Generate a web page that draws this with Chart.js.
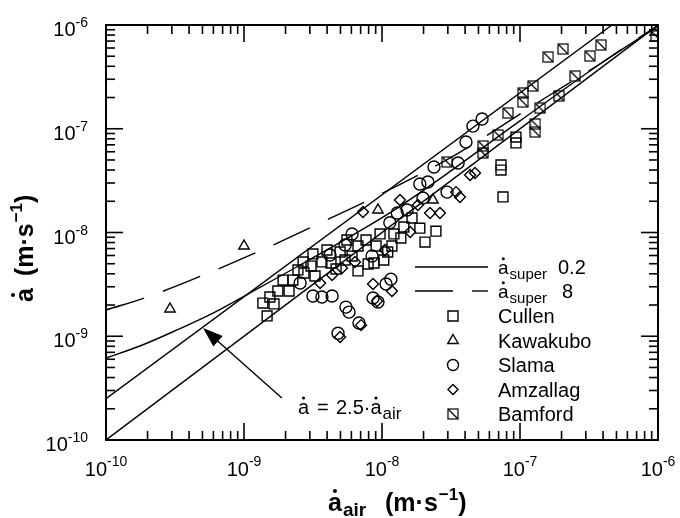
<!DOCTYPE html>
<html><head><meta charset="utf-8">
<script src="https://cdn.jsdelivr.net/npm/chart.js@4/dist/chart.umd.min.js"></script>
<style>html,body{margin:0;padding:0;background:#fff;}canvas{display:block;}</style>
</head><body>
<canvas id="c" width="680" height="518"></canvas>
<script>
// ---- data ----
const tickValues = [1e-10, 1e-9, 1e-8, 1e-7, 1e-6];
const tickExponents = ['-10', '-9', '-8', '-7', '-6'];
const minorMultipliers = [2, 3, 4, 5, 6, 7, 8, 9];

const lineEqual = [[1e-10, 1e-10], [1e-6, 1e-6]];
const line25 = [[1e-10, 2.5e-10], [4.64e-7, 1e-6]];
const curveSuper02 = [[1e-10,6.17e-10],[1.76e-10,8.05e-10],[3.27e-10,1.15e-9],[5.96e-10,1.67e-9],[1.10e-9,2.61e-9],[2.55e-9,4.86e-9],[1.29e-8,1.72e-8],[1.0e-7,1.19e-7],[3.80e-7,4.21e-7],[1e-6,9.77e-7]];
const curveSuper8 = [[1e-10,1.79e-9],[2.08e-10,2.44e-9],[5.31e-10,3.98e-9],[1.35e-9,6.78e-9],[3.44e-9,1.21e-8],[9.20e-9,2.25e-8],[3.38e-8,5.58e-8],[1.52e-7,1.98e-7],[3.99e-7,4.40e-7],[7.41e-7,7.66e-7],[1e-6,9.77e-7]];

const cullen = [[1.47e-9,1.57e-9],[1.37e-9,2.09e-9],[1.54e-9,2.39e-9],[1.65e-9,2.05e-9],[1.76e-9,2.73e-9],[1.92e-9,3.48e-9],[2.12e-9,2.73e-9],[2.26e-9,3.48e-9],[2.46e-9,4.36e-9],[2.72e-9,4.07e-9],[3.06e-9,4.75e-9],[3.27e-9,3.81e-9],[3.67e-9,5.20e-9],[4.27e-9,5.08e-9],[4.65e-9,4.45e-9],[5.40e-9,5.43e-9],[6.07e-9,5.93e-9],[6.70e-9,4.26e-9],[7.93e-9,4.97e-9],[8.75e-9,5.08e-9],[1.03e-8,5.43e-9],[1.10e-8,6.49e-9],[1.22e-8,9.68e-9],[1.37e-8,8.85e-9],[1.44e-8,1.13e-8],[2.05e-8,8.09e-9],[2.46e-8,1.03e-8],[7.28e-8,4.48e-8],[7.28e-8,4.00e-8],[9.35e-8,8.32e-8],[9.35e-8,7.30e-8],[7.53e-8,2.20e-8],[3.16e-9,6.21e-9],[3.99e-9,6.78e-9],[4.97e-9,6.49e-9],[6.70e-9,7.41e-9],[7.66e-9,8.47e-9],[9.06e-9,7.41e-9],[9.68e-9,9.68e-9],[1.65e-8,1.38e-8],[1.88e-8,1.10e-8],[5.57e-9,8.47e-9],[2.68e-9,5.20e-9],[1.18e-8,7.41e-9]];
const kawakubo = [[2.91e-10,1.83e-9],[1.0e-9,7.41e-9],[9.35e-9,1.65e-8],[2.34e-8,2.06e-8]];
const slama = [[3.16e-9,2.44e-9],[3.67e-9,2.39e-9],[4.35e-9,2.44e-9],[5.48e-9,1.91e-9],[5.77e-9,1.71e-9],[6.81e-9,1.34e-9],[4.80e-9,1.07e-9],[8.61e-9,2.34e-9],[9.35e-9,2.14e-9],[1.07e-8,3.19e-9],[1.16e-8,3.55e-9],[4.56e-8,1.06e-7],[5.31e-8,1.24e-7],[4.06e-8,7.45e-8],[2.38e-8,4.28e-8],[3.56e-8,4.68e-8],[2.15e-8,3.07e-8],[1.88e-8,2.93e-8],[2.96e-8,2.45e-8],[1.98e-8,2.15e-8],[1.52e-8,1.65e-8],[1.14e-8,1.24e-8],[6.07e-9,9.68e-9],[1.29e-8,1.54e-8],[5.40e-9,7.59e-9],[4.20e-9,6.07e-9],[8.47e-9,5.93e-9],[2.55e-9,3.26e-9]];
const amzallag = [[7.28e-9,1.58e-8],[1.35e-8,2.06e-8],[2.63e-8,1.54e-8],[4.72e-8,3.74e-8],[4.35e-8,3.58e-8],[3.67e-8,2.20e-8],[3.44e-8,2.45e-8],[1.18e-8,2.73e-9],[9.21e-9,2.19e-9],[7.05e-9,1.28e-9],[4.97e-9,9.84e-10],[5.13e-9,4.55e-9],[3.56e-9,3.26e-9],[8.61e-9,3.19e-9],[1.82e-8,1.84e-8],[2.23e-8,1.54e-8],[1.60e-8,1.01e-8],[1.05e-8,6.78e-9],[4.35e-9,3.89e-9],[6.37e-9,5.20e-9]];
const bamford = [[1.60e-7,4.92e-7],[2.05e-7,5.87e-7],[3.21e-7,5.02e-7],[3.86e-7,6.41e-7],[2.51e-7,3.22e-7],[1.24e-7,2.58e-7],[1.05e-7,2.21e-7],[1.05e-7,1.81e-7],[8.18e-8,1.42e-7],[1.92e-7,2.07e-7],[1.40e-7,1.58e-7],[1.29e-7,1.11e-7],[1.29e-7,9.31e-8],[6.94e-8,8.71e-8],[5.40e-8,6.83e-8],[5.40e-8,5.83e-8],[2.96e-8,4.79e-8],[9.69e-7,7.83e-7]];

const legendNames = ['Cullen', 'Kawakubo', 'Slama', 'Amzallag', 'Bamford'];
const legendCurves = ['0.2', '8'];
const arrowFrom = [1.88e-9, 2.54e-10];
const arrowTo = [5.05e-10, 1.2e-9];
const annotationAt = [2.46e-9, 1.78e-10];

// ---- helpers ----
const FONT = '"Liberation Sans", Arial, Helvetica, sans-serif';
const toPts = arr => arr.map(([x, y]) => ({x, y}));

function bamfordImg() {
  const c = document.createElement('canvas');
  c.width = 12; c.height = 12;
  const g = c.getContext('2d');
  g.strokeStyle = '#000'; g.lineWidth = 1.2;
  g.strokeRect(1, 1, 10, 10);
  g.beginPath(); g.moveTo(1.5, 1.5); g.lineTo(10.5, 10.5); g.stroke();
  return c;
}
const bamImg = bamfordImg();

function lineDs(arr, dash) {
  return {data: toPts(arr), showLine: true, pointRadius: 0, borderColor: '#000',
    borderWidth: 1.4, borderDash: dash || [], fill: false, cubicInterpolationMode: 'monotone'};
}
function markDs(arr, style, r) {
  return {data: toPts(arr), showLine: false, pointStyle: style, pointRadius: r,
    borderColor: '#000', backgroundColor: 'rgba(0,0,0,0)', pointBorderWidth: 1.4, borderWidth: 1.4};
}

function setFont(ctx, size, weight) { ctx.font = (weight || 'normal') + ' ' + size + 'px ' + FONT; }
function txt(ctx, s, x, y, size, weight) { setFont(ctx, size, weight); ctx.fillText(s, x, y); return ctx.measureText(s).width; }
function dotA(ctx, x, base, size, weight) {
  setFont(ctx, size, weight);
  ctx.fillText('a', x, base);
  const w = ctx.measureText('a').width;
  ctx.beginPath(); ctx.arc(x + w * 0.5, base - size * 0.8, size * 0.08, 0, Math.PI * 2); ctx.fill();
  return w;
}
function legendMarker(ctx, k, x, y) {
  ctx.lineWidth = 1.4; ctx.strokeStyle = '#000';
  ctx.beginPath();
  if (k === 0) ctx.rect(x - 5, y - 5, 10, 10);
  else if (k === 1) { ctx.moveTo(x, y - 6); ctx.lineTo(x + 5.2, y + 3); ctx.lineTo(x - 5.2, y + 3); ctx.closePath(); }
  else if (k === 2) ctx.arc(x, y, 5.5, 0, Math.PI * 2);
  else if (k === 3) { ctx.moveTo(x - 5, y); ctx.lineTo(x, y - 5); ctx.lineTo(x + 5, y); ctx.lineTo(x, y + 5); ctx.closePath(); }
  else if (k === 4) { ctx.drawImage(bamImg, Math.round(x - 6), Math.round(y - 6)); return; }
  ctx.stroke();
}

const deco = {
  id: 'deco',
  beforeDraw(chart) { const c = chart.ctx; c.save(); c.fillStyle = '#fff'; c.fillRect(0, 0, chart.width, chart.height); c.restore(); },
  afterDraw(chart) {
    const ctx = chart.ctx, a = chart.chartArea, xs = chart.scales.x, ys = chart.scales.y;
    ctx.save();
    ctx.strokeStyle = '#000'; ctx.fillStyle = '#000';
    ctx.lineWidth = 2;
    ctx.strokeRect(a.left, a.top, a.right - a.left, a.bottom - a.top);
    const seg = (x1, y1, x2, y2) => { ctx.beginPath(); ctx.moveTo(x1, y1); ctx.lineTo(x2, y2); ctx.stroke(); };
    ctx.lineWidth = 1.6;
    tickValues.forEach((v, i) => {
      const px = xs.getPixelForValue(v), py = ys.getPixelForValue(v);
      seg(px, a.bottom, px, a.bottom - 17); seg(px, a.top, px, a.top + 17);
      seg(a.left, py, a.left + 17, py); seg(a.right, py, a.right - 17, py);
      if (i < tickValues.length - 1) minorMultipliers.forEach(m => {
        const qx = xs.getPixelForValue(v * m), qy = ys.getPixelForValue(v * m);
        seg(qx, a.bottom, qx, a.bottom - 9); seg(qx, a.top, qx, a.top + 9);
        seg(a.left, qy, a.left + 9, qy); seg(a.right, qy, a.right - 9, qy);
      });
    });
    // tick labels
    ctx.textBaseline = 'alphabetic'; ctx.textAlign = 'left';
    tickValues.forEach((v, i) => {
      const e = tickExponents[i];
      setFont(ctx, 20); const w1 = ctx.measureText('10').width;
      setFont(ctx, 14); const w2 = ctx.measureText(e).width;
      const px = xs.getPixelForValue(v);
      const sx = px - (w1 + w2) / 2;
      txt(ctx, '10', sx, a.bottom + 36, 20); txt(ctx, e, sx + w1, a.bottom + 26, 14);
      const py = ys.getPixelForValue(v);
      const rx = 88 - (w1 + w2);
      txt(ctx, '10', rx, py + 11, 20); txt(ctx, e, rx + w1, py + 2, 14);
    });
    // x axis title
    let cx = 328;
    cx += dotA(ctx, cx, 511, 25, 'bold');
    txt(ctx, 'air', cx + 1, 516, 19, 'bold');
    cx = 385;
    cx += txt(ctx, '(m·s', cx, 511, 25, 'bold');
    cx += txt(ctx, '−1', cx + 1, 500, 17, 'bold') + 1;
    txt(ctx, ')', cx, 511, 25, 'bold');
    // y axis title (rotated)
    ctx.save();
    ctx.translate(33, 302); ctx.rotate(-Math.PI / 2);
    let ty = 0;
    ty += dotA(ctx, ty, 0, 25, 'bold');
    ty += 12;
    ty += txt(ctx, '(m·s', ty, 0, 25, 'bold');
    ty += txt(ctx, '−1', ty + 1, -11, 17, 'bold') + 1;
    txt(ctx, ')', ty, 0, 25, 'bold');
    ctx.restore();
    // legend: curves
    ctx.lineWidth = 1.4;
    seg(415, 267, 488, 267);
    seg(415, 291, 453, 291); seg(472, 291, 488, 291);
    [274, 298].forEach((b, i) => {
      let lx = 498;
      lx += dotA(ctx, lx, b, 19);
      txt(ctx, 'super', lx + 1, b + 5, 15);
      txt(ctx, legendCurves[i], i === 0 ? 558 : 562, b, 20);
    });
    legendNames.forEach((n, i) => {
      const b = 323 + i * 24.5;
      legendMarker(ctx, i, 453, b - 7);
      txt(ctx, n, 498, b, 20);
    });
    // arrow
    const ax0 = xs.getPixelForValue(arrowFrom[0]), ay0 = ys.getPixelForValue(arrowFrom[1]);
    const ax1 = xs.getPixelForValue(arrowTo[0]), ay1 = ys.getPixelForValue(arrowTo[1]);
    const ang = Math.atan2(ay1 - ay0, ax1 - ax0);
    ctx.lineWidth = 1.4;
    seg(ax0, ay0, ax1 - Math.cos(ang) * 12, ay1 - Math.sin(ang) * 12);
    ctx.beginPath();
    ctx.moveTo(ax1, ay1);
    ctx.lineTo(ax1 - Math.cos(ang) * 20 + Math.sin(ang) * 7, ay1 - Math.sin(ang) * 20 - Math.cos(ang) * 7);
    ctx.lineTo(ax1 - Math.cos(ang) * 20 - Math.sin(ang) * 7, ay1 - Math.sin(ang) * 20 + Math.cos(ang) * 7);
    ctx.closePath(); ctx.fill();
    // annotation
    const tx = xs.getPixelForValue(annotationAt[0]), tb = ys.getPixelForValue(annotationAt[1]);
    dotA(ctx, tx, tb, 20);
    txt(ctx, '=', tx + 19, tb, 20);
    let qx = tx + 38;
    qx += txt(ctx, '2.5·', qx, tb, 20);
    qx += dotA(ctx, qx, tb, 20);
    txt(ctx, 'air', qx + 1, tb + 5, 17);
    ctx.restore();
  }
};

new Chart(document.getElementById('c'), {
  type: 'scatter',
  data: {datasets: [
    lineDs(lineEqual), lineDs(line25), lineDs(curveSuper02), lineDs(curveSuper8, [40, 20]),
    markDs(cullen, 'rect', 7), markDs(kawakubo, 'triangle', 6), markDs(slama, 'circle', 6),
    markDs(amzallag, 'rectRot', 5.5), markDs(bamford, bamImg, 7)
  ]},
  options: {
    responsive: false, animation: false, devicePixelRatio: 1, events: [],
    layout: {padding: {left: 106, right: 22, top: 25, bottom: 78}},
    plugins: {legend: {display: false}, tooltip: {enabled: false}},
    scales: {
      x: {type: 'logarithmic', min: 1e-10, max: 1e-6, display: false},
      y: {type: 'logarithmic', min: 1e-10, max: 1e-6, display: false}
    }
  },
  plugins: [deco]
});
</script>
</body></html>
